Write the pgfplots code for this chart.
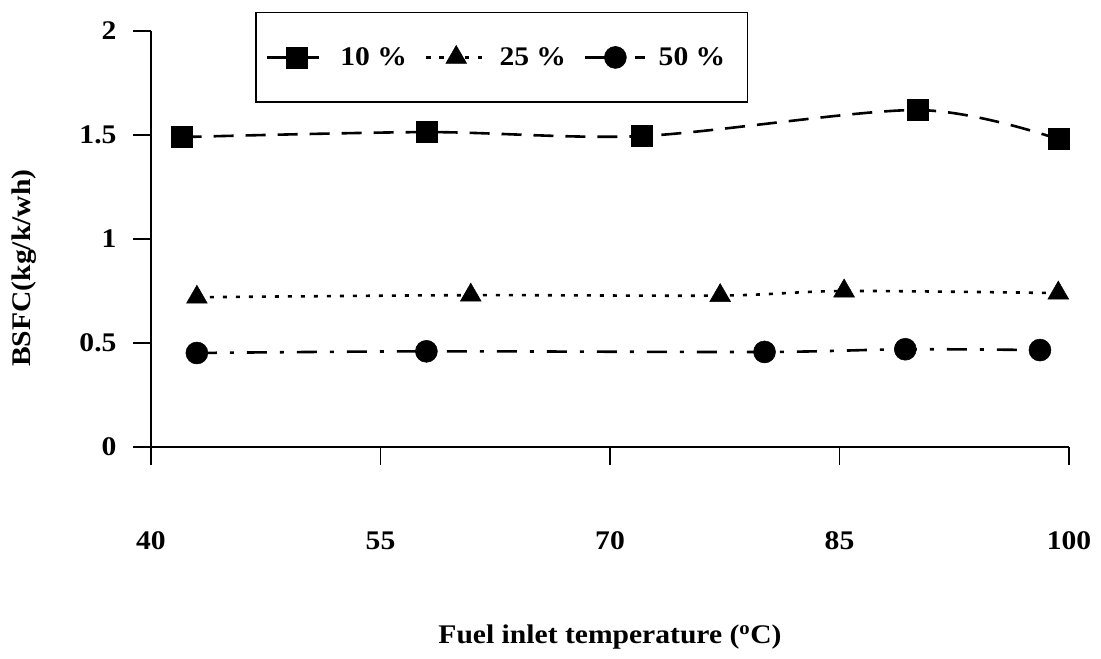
\documentclass[border=0pt]{standalone}
\usepackage{fontspec}
\setmainfont{Liberation Serif}
\newfontfamily\chartfont{Liberation Serif}[FakeStretch=1.1]
\usepackage{pgfplots}
\pgfplotsset{compat=1.18}

\begin{document}
\begin{tikzpicture}
\begin{axis}[
  at={(0,0)}, anchor=south west,
  scale only axis, width=918bp, height=416bp,
  xmin=40, xmax=100, ymin=0, ymax=2,
  axis lines=left,
  axis line style={-, line width=1.2bp},
  xtick={40,55,70,85,100},
  ytick={0,0.5,1,1.5,2},
  tick align=outside,
  major tick length=18bp,
  tick style={line width=1.2bp, black},
  /pgf/number format/assume math mode=true,
  ticklabel style={font=\chartfont\fontsize{27}{27}\selectfont\bfseries},
  xticklabel style={yshift=-63bp},
  yticklabel style={xshift=-13bp},
  xlabel={Fuel inlet temperature (\textsuperscript{o}C)},
  ylabel={BSFC(kg/k/wh)},
  label style={font=\chartfont\fontsize{27}{27}\selectfont\bfseries},
  xlabel style={at={(axis description cs:0.5,-0.457)}, anchor=center},
  ylabel style={at={(axis description cs:-0.1383,0.43)}, anchor=center},
  legend columns=3,
  legend style={at={(axis description cs:0.1133,1.0457)}, anchor=north west,
    draw=black, line width=1.5bp,
    font=\chartfont\fontsize{27}{27}\selectfont\bfseries,
    inner xsep=10bp, inner ysep=4bp,
    nodes={inner xsep=12bp, inner ysep=31bp},
    /tikz/every even column/.append style={column sep=6bp}},
  legend image code/.code={\draw[mark repeat=2,mark phase=2]
    plot coordinates {(0bp,0bp)(30bp,0bp)(60bp,0bp)};},
]
% 10 % load
\addplot[black, line width=2.6bp, dash pattern=on 20bp off 12bp, smooth,
  mark=square*, mark size=10.5bp, mark options={solid, line width=0.5bp}]
  coordinates {(42.0,1.49) (58.0,1.514) (72.1,1.495) (90.1,1.62) (99.3,1.48)};
\addlegendentry{10 \%}
% 25 % load
\addplot[black, line width=2.6bp, dash pattern=on 4bp off 9bp, smooth,
  mark=triangle*, mark size=12bp, mark options={solid, line width=0.5bp}]
  coordinates {(43.0,0.72) (60.9,0.73) (77.2,0.728) (85.3,0.75) (99.3,0.74)};
\addlegendentry{25 \%}
% 50 % load
\addplot[black, line width=2.6bp, dash pattern=on 20bp off 13bp on 4bp off 13bp, smooth,
  mark=*, mark size=11bp, mark options={solid, line width=0.5bp}]
  coordinates {(43.0,0.452) (58.0,0.46) (80.1,0.457) (89.3,0.47) (98.1,0.466)};
\addlegendentry{50 \%}
\end{axis}
\path (-151bp,-212bp) rectangle (950bp,447bp);
\end{tikzpicture}
\end{document}
